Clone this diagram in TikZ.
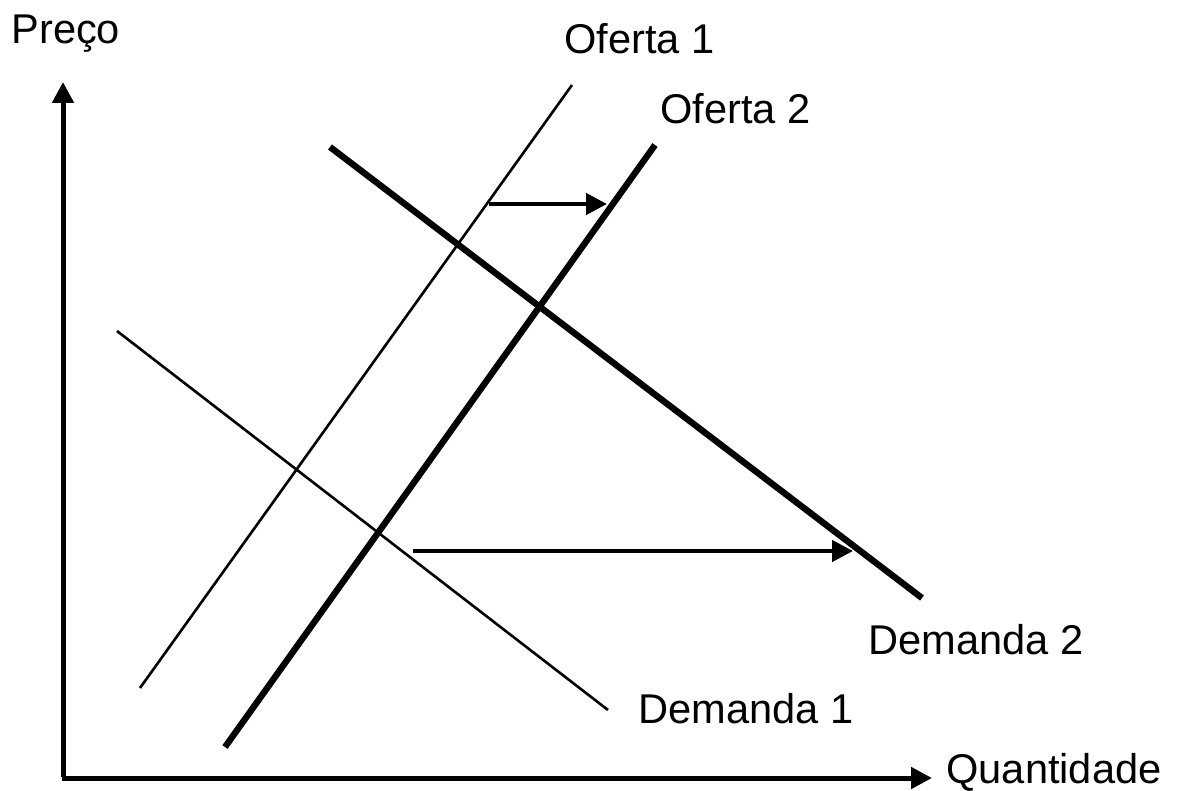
\documentclass[tikz,border=0pt]{standalone}
\usepackage{fontspec}
\setmainfont{Liberation Sans}
\usetikzlibrary{arrows.meta}
\begin{document}
\begin{tikzpicture}[x=0.5pt,y=-0.5pt,
  lbl/.style={anchor=base west,inner sep=0pt,font=\fontsize{20.8}{25}\selectfont},
  axis/.style={line width=2.5pt,-{Triangle[length=10.5pt,width=10.5pt]}},
  thin/.style={line width=1.3pt},
  thick line/.style={line width=3.2pt},
  shift arrow/.style={line width=2.3pt,-{Triangle[length=10.5pt,width=10.5pt]}}]
\useasboundingbox (0,0) rectangle (1177,791);
% axes
\coordinate (O) at (63,778);
\coordinate (ytop) at (63,82);
\coordinate (xend) at (932,778);
\draw[axis] ([yshift=0.6pt]O) -- (ytop);
\draw[axis] ([xshift=-0.6pt]O) -- (xend);
% curves
\coordinate (o1a) at (140,688); \coordinate (o1b) at (572,85);
\coordinate (o2a) at (225,747); \coordinate (o2b) at (655,145);
\coordinate (d1a) at (117,331); \coordinate (d1b) at (608,710);
\coordinate (d2a) at (330,147); \coordinate (d2b) at (922,598);
\draw[thin] (o1a) -- (o1b);
\draw[thick line] (o2a) -- (o2b);
\draw[thin] (d1a) -- (d1b);
\draw[thick line] (d2a) -- (d2b);
% shift arrows
\coordinate (s1a) at (489,204); \coordinate (s1b) at (607,204);
\coordinate (s2a) at (413,551); \coordinate (s2b) at (853,551);
\draw[shift arrow] (s1a) -- (s1b);
\draw[shift arrow] (s2a) -- (s2b);
% labels
\node[lbl] (preco) at (11,44) {Preço};
\node[lbl] (quant) at (946,783) {Quantidade};
\node[lbl] (of1) at (564,54) {Oferta 1};
\node[lbl] (of2) at (660,124) {Oferta 2};
\node[lbl] (dem2) at (868,654) {Demanda 2};
\node[lbl] (dem1) at (638,723) {Demanda 1};
\end{tikzpicture}
\end{document}
